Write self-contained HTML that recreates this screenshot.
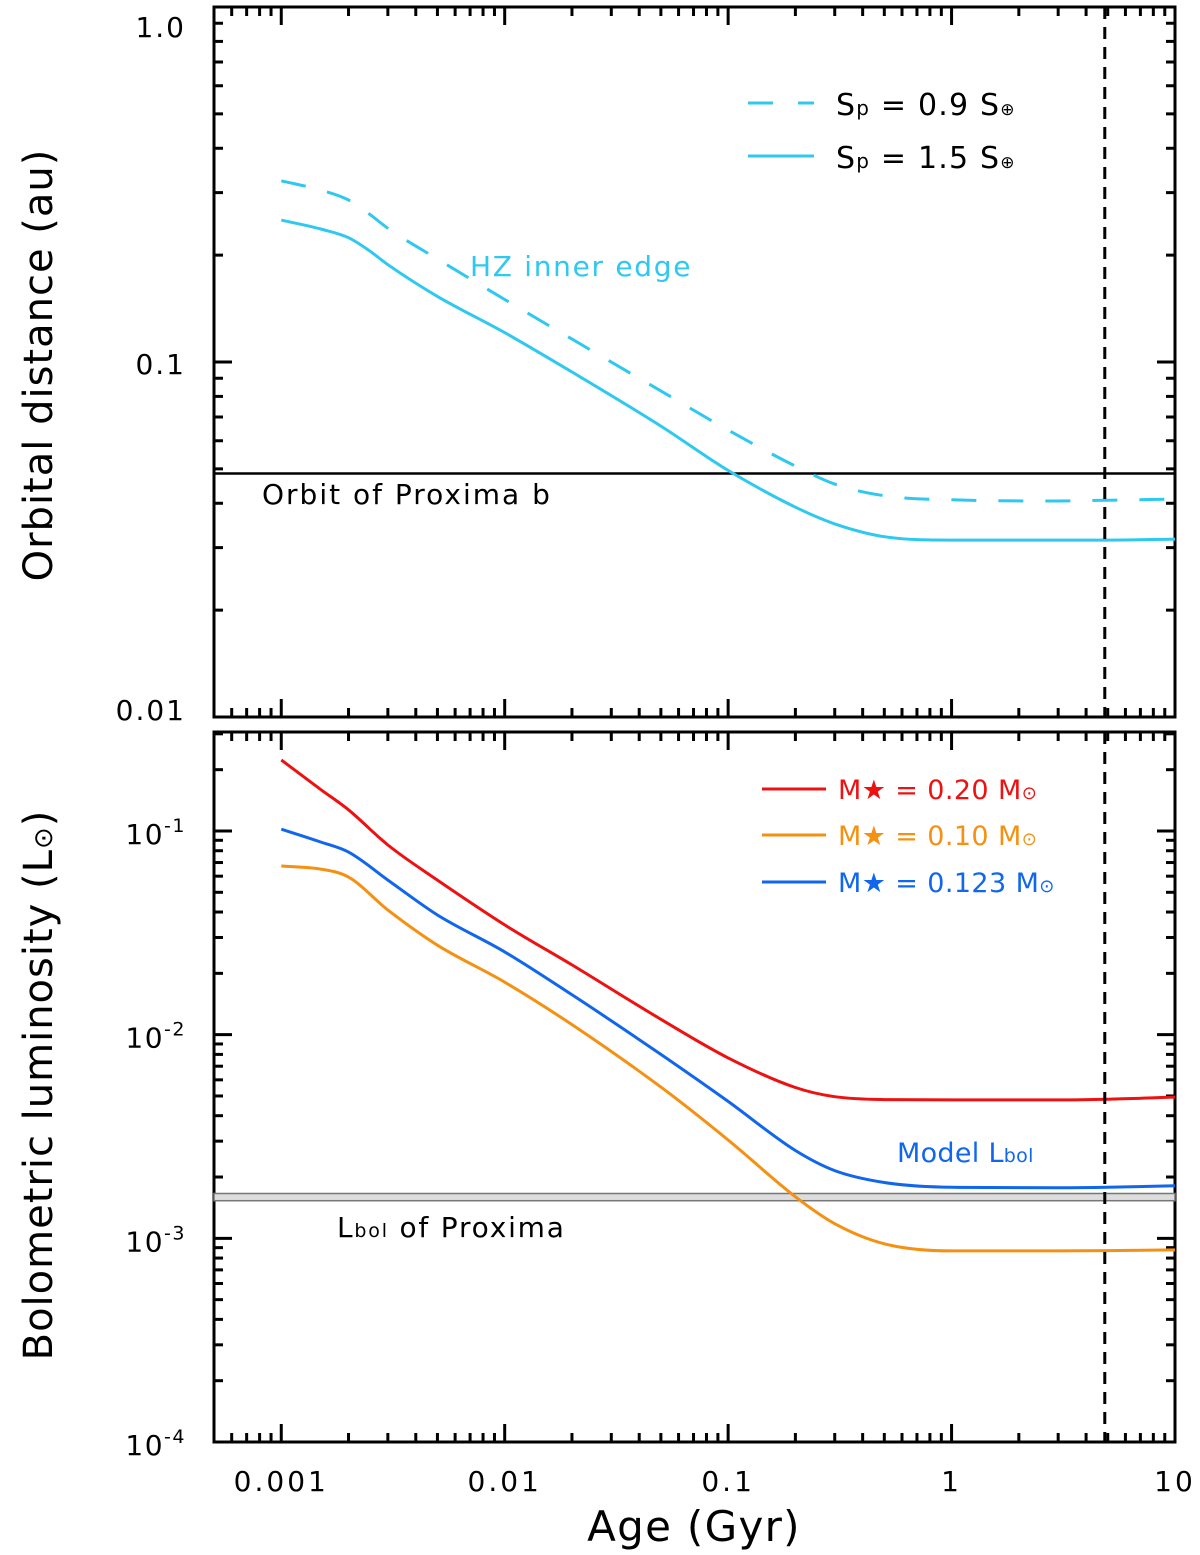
<!DOCTYPE html>
<html><head><meta charset="utf-8"><style>
html,body{margin:0;padding:0;background:#fff}
svg{display:block}
text{font-family:"DejaVu Sans","Liberation Sans",sans-serif}
</style></head><body>
<svg id="chart" width="1200" height="1555" viewBox="0 0 1200 1555" xmlns="http://www.w3.org/2000/svg"></svg>
<script>
const ages = [0.001,0.0015,0.002,0.0025,0.003,0.005,0.01,0.02,0.05,0.1,0.2,0.3,0.5,1,3,5,10];
const hzDashed = [0.324,0.305,0.286,0.260,0.238,0.195,0.150,0.116,0.0829,0.0643,0.0509,0.0453,0.0420,0.0409,0.0406,0.0408,0.0411];
const hzSolid = [0.251,0.237,0.224,0.205,0.188,0.153,0.121,0.0937,0.0660,0.0495,0.0390,0.0350,0.0322,0.0315,0.0315,0.0315,0.0317];
const lumAges = [0.001,0.0015,0.002,0.003,0.005,0.01,0.02,0.05,0.1,0.2,0.3,0.5,1,3,5,10];
const lumRed = [0.223,0.160,0.127,0.0853,0.0574,0.0346,0.0220,0.0119,0.00769,0.00550,0.00496,0.00480,0.00478,0.00478,0.00482,0.00494];
const lumBlue = [0.102,0.0883,0.0788,0.0574,0.0387,0.0255,0.0157,0.00800,0.00470,0.00270,0.00215,0.00188,0.00178,0.00177,0.00178,0.00181];
const lumOrange = [0.0673,0.0650,0.0594,0.0409,0.0275,0.0181,0.0112,0.00553,0.00304,0.00160,0.00118,0.00094,0.000868,0.000868,0.000870,0.000877];
const orbitB = 0.0485;
const lbolBand = [0.00153,0.00166];
const proximaAge = 4.85;
const xTickVals = [0.001,0.01,0.1,1,10];
const xTickLabels = ["0.001","0.01","0.1","1","10"];
const topTickVals = [1,0.1,0.01];
const topTickLabels = ["1.0","0.1","0.01"];
const botTickVals = [0.1,0.01,0.001,0.0001];
const botTickExp = ["-1","-2","-3","-4"];

const NS="http://www.w3.org/2000/svg";
const svg=document.getElementById('chart');
const L=214,R=1175;
const xMin=Math.log10(0.0005),xMax=1;
const X=v=>L+(Math.log10(v)-xMin)/(xMax-xMin)*(R-L);
const T={top:7,bot:717,lmax:0,lmin:-2};
const B={top:732,bot:1442,lmax:-1+99/203.7,lmin:-4};
const Yt=v=>T.top+(T.lmax-Math.log10(v))/(T.lmax-T.lmin)*(T.bot-T.top);
const Yb=v=>B.top+(B.lmax-Math.log10(v))/(B.lmax-B.lmin)*(B.bot-B.top);
function el(tag,attrs,parent){const e=document.createElementNS(NS,tag);for(const k in attrs)e.setAttribute(k,attrs[k]);(parent||svg).appendChild(e);return e;}
function txt(s,x,y,size,fill,anchor,ls){const t=el('text',{x:x,y:y,'font-size':size,fill:fill||'#000','text-anchor':anchor||'start','letter-spacing':ls||0});t.textContent=s;return t;}
function pathOf(xs,ys,fy){
  const px=xs.map(v=>X(v)),py=ys.map(v=>fy(v)),n=px.length;
  const d=[],m=[];
  for(let i=0;i<n-1;i++)d.push((py[i+1]-py[i])/(px[i+1]-px[i]));
  m[0]=d[0];m[n-1]=d[n-2];
  for(let i=1;i<n-1;i++){m[i]=(d[i-1]*d[i]<=0)?0:(d[i-1]+d[i])/2;}
  for(let i=0;i<n-1;i++){if(d[i]===0){m[i]=0;m[i+1]=0;continue;}const a=m[i]/d[i],b=m[i+1]/d[i],s=a*a+b*b;if(s>9){const t=3/Math.sqrt(s);m[i]=t*a*d[i];m[i+1]=t*b*d[i];}}
  let s='M'+px[0].toFixed(1)+' '+py[0].toFixed(1);
  for(let i=0;i<n-1;i++){const h=(px[i+1]-px[i])/3;
    s+=' C'+(px[i]+h).toFixed(1)+' '+(py[i]+m[i]*h).toFixed(1)+' '+(px[i+1]-h).toFixed(1)+' '+(py[i+1]-m[i+1]*h).toFixed(1)+' '+px[i+1].toFixed(1)+' '+py[i+1].toFixed(1);}
  return s;
}

function panel(P,Y,name){
  const g=el('g',{});
  
  
  for(let d=-4;d<=1;d++)for(let m=1;m<10;m++){
    const v=m*Math.pow(10,d);if(v<0.0005||v>10.001)continue;
    const x=X(v),len=m===1?18:9;
    el('line',{x1:x,x2:x,y1:P.bot,y2:P.bot-len,stroke:'#000','stroke-width':3},g);
    el('line',{x1:x,x2:x,y1:P.top,y2:P.top+len,stroke:'#000','stroke-width':3},g);
  }
  for(let d=Math.floor(P.lmin);d<=0;d++)for(let m=1;m<10;m++){
    const v=m*Math.pow(10,d);const lv=Math.log10(v);if(lv<P.lmin-1e-9||lv>P.lmax+1e-9)continue;
    const y=Y(v),len=m===1?18:9;
    el('line',{x1:L,x2:L+len,y1:y,y2:y,stroke:'#000','stroke-width':3},g);
    el('line',{x1:R,x2:R-len,y1:y,y2:y,stroke:'#000','stroke-width':3},g);
  }
  el('rect',{x:L,y:P.top,width:R-L,height:P.bot-P.top,fill:'none',stroke:'#000','stroke-width':3},g);
  return g;
}
panel(T,Yt,'top-panel-axes');
panel(B,Yb,'bottom-panel-axes');

const topLabelY=[37,374,720];
topTickVals.forEach((v,i)=>{const t=txt(topTickLabels[i],186,topLabelY[i],28,'#000','end',2);
});
botTickVals.forEach((v,i)=>{const t=el('text',{x:186,y:Yb(v)+13,'font-size':28,'text-anchor':'end','letter-spacing':1.5});

t.innerHTML='10<tspan font-size="19" dy="-12">'+botTickExp[i]+'</tspan>';});
xTickVals.forEach((v,i)=>{const t=txt(xTickLabels[i],X(v),1491,28,'#000','middle',3);
});

let t=txt('Orbital distance (au)',0,0,40,'#000','middle',1);t.setAttribute('transform','translate(52,365) rotate(-90)');

t=el('text',{transform:'translate(52,1085) rotate(-90)','font-size':40,'text-anchor':'middle','letter-spacing':1});
t.innerHTML='Bolometric luminosity (L<tspan font-size="26">⊙</tspan>)';

t=txt('Age (Gyr)',694,1541,42,'#000','middle',1.3);


const cyan='#2fc8f0';
let p=el('line',{x1:L,x2:R,y1:Yt(orbitB),y2:Yt(orbitB),stroke:'#000','stroke-width':2.5});

t=txt('Orbit of Proxima b',262,504,28,'#000','start',2);
p=el('path',{d:pathOf(ages,hzDashed,Yt),fill:'none',stroke:cyan,'stroke-width':3,'stroke-dasharray':'25 22'});

p=el('path',{d:pathOf(ages,hzSolid,Yt),fill:'none',stroke:cyan,'stroke-width':3});

t=txt('HZ inner edge',470,276,28,cyan,'start',1.7);
p=el('line',{x1:748,x2:814,y1:103,y2:103,stroke:cyan,'stroke-width':3,'stroke-dasharray':'25 25'});

p=el('line',{x1:748,x2:814,y1:156,y2:156,stroke:cyan,'stroke-width':3});

t=el('text',{x:836,y:115,'font-size':30,'letter-spacing':1.2});t.innerHTML='S<tspan font-size="20">p</tspan> = 0.9 S<tspan font-size="17">⊕</tspan>';

t=el('text',{x:836,y:168,'font-size':30,'letter-spacing':1.2});t.innerHTML='S<tspan font-size="20">p</tspan> = 1.5 S<tspan font-size="17">⊕</tspan>';


p=el('rect',{x:L,y:Yb(lbolBand[1]),width:R-L,height:Yb(lbolBand[0])-Yb(lbolBand[1]),fill:'#ddd',stroke:'#777','stroke-width':1.5});

t=el('text',{x:337,y:1237,'font-size':28,'letter-spacing':1.8});t.innerHTML='L<tspan font-size="19">bol</tspan> of Proxima';

const red='#ee1111',orange='#f59112',blue='#1166ee';
[[lumRed,red,'lum-red'],[lumOrange,orange,'lum-orange'],[lumBlue,blue,'lum-blue']].forEach(s=>{
  const q=el('path',{d:pathOf(lumAges,s[0],Yb),fill:'none',stroke:s[1],'stroke-width':3});
  
});
t=el('text',{x:897,y:1162,'font-size':27,fill:blue,'letter-spacing':0.3});t.innerHTML='Model L<tspan font-size="19">bol</tspan>';

[[red,'M★ = 0.20 M','legend-entry-red',789],[orange,'M★ = 0.10 M','legend-entry-orange',835],[blue,'M★ = 0.123 M','legend-entry-blue',882]].forEach(s=>{
  const ln=el('line',{x1:762,x2:826,y1:s[3],y2:s[3],stroke:s[0],'stroke-width':3});
  
  const tt=el('text',{x:838,y:s[3]+10,'font-size':27,fill:s[0],'letter-spacing':0.4});
  tt.innerHTML=s[1]+'<tspan font-size="18">⊙</tspan>';
  
});

[[T.top,T.bot],[B.top,B.bot]].forEach(r=>{
  const v=el('line',{x1:X(proximaAge),x2:X(proximaAge),y1:r[0],y2:r[1],stroke:'#000','stroke-width':3,'stroke-dasharray':'12 8'});
  
});
</script>
</body></html>
